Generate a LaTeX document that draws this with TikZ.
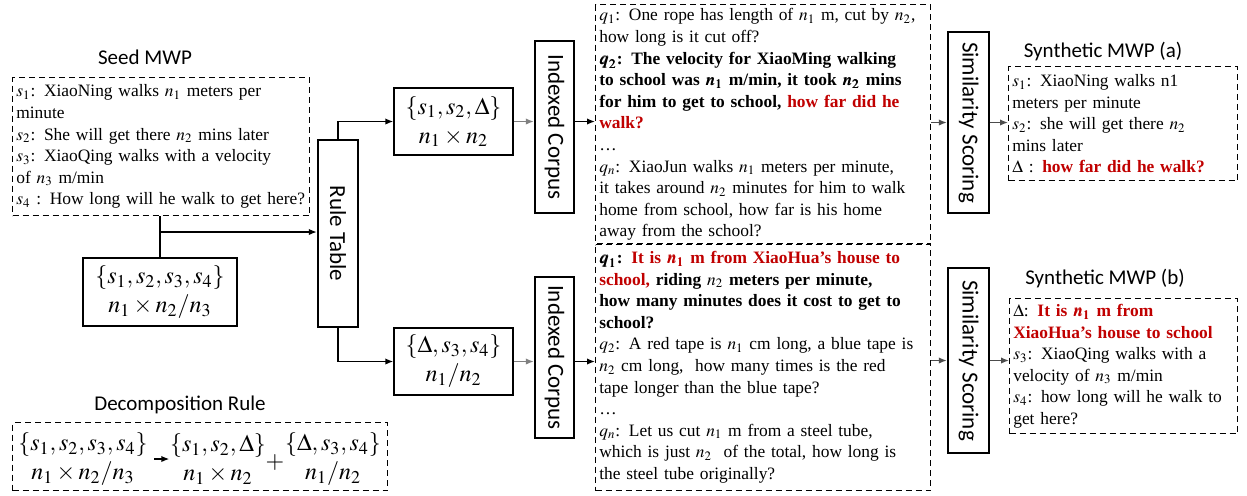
\documentclass[tikz,border=0pt]{standalone}
\usepackage{mathptmx}
\usepackage{fontspec}
\setmainfont{Liberation Serif}
\newfontfamily\labelfont{Carlito}
\usepackage{amsmath,bm,graphicx}
\usetikzlibrary{positioning,arrows.meta}

\definecolor{mwpred}{RGB}{192,0,0}

\def\txtsize{\fontsize{8.7}{10.8}\selectfont}
\tikzstyle{mwp} = [rectangle,
draw=black,
line width=0.7pt,
dash pattern=on 3pt off 2pt,
anchor=north west,
inner xsep=1.8pt,
inner ysep=2pt,
align=left,
font=\txtsize]
\tikzstyle{formula} = [rectangle,
draw=black,
line width=0.7pt,
align=center,
inner sep=0pt,
font=\fontsize{12}{14.5}\selectfont]
\tikzstyle{tall} = [rectangle,
draw=black,
line width=1.2pt,
inner sep=0pt,
font=\labelfont\fontsize{11.5}{12}\selectfont]
\tikzstyle{title} = [font=\labelfont\fontsize{10.5}{12}\selectfont]
\tikzstyle{arr} = [line width=0.7pt, -{Latex[length=4pt,width=3.2pt]}]

\begin{document}
\begin{tikzpicture}[x=0.5pt,y=-0.5pt]
    \useasboundingbox (0,0) rectangle (1247,495);
    %%%%%%%%%%%%%%%%%%%%%%%%%%%%%%%%%%%%%%%%
    % Seed problem
    %%%%%%%%%%%%%%%%%%%%%%%%%%%%%%%%%%%%%%%%
    \node (seedtitle) [title] at (145,57) {Seed MWP};
    \node (seed) [mwp, text width=144.9pt, minimum height=69pt] at (12,77) {%
        $s_1$: XiaoNing walks $n_1$ meters per\\
        minute\\
        $s_2$: She will get there $n_2$ mins later\\
        $s_3$: XiaoQing walks with a velocity\\
        of $n_3$ m/min\\
        $s_4$ : How long will he walk to get here?};
    \node (form) [formula, minimum width=77pt, minimum height=34pt] at (160,292)
        {$\{s_1,s_2,s_3,s_4\}$\\ $n_1\times n_2/n_3$};
    \node (rule) [tall, minimum width=20pt, minimum height=93.5pt] at (338,233.5)
        {\rotatebox{-90}{Rule Table}};
    %%%%%%%%%%%%%%%%%%%%%%%%%%%%%%%%%%%%%%%%
    % Decomposition rule
    %%%%%%%%%%%%%%%%%%%%%%%%%%%%%%%%%%%%%%%%
    \node (dectitle) [title] at (180,405) {Decomposition Rule};
    \node (dec) [mwp, minimum width=187.5pt, minimum height=34pt] at (12,422) {};
    \node (d1) [formula, draw=none] at (83,459) {$\{s_1,s_2,s_3,s_4\}$\\ $n_1\times n_2/n_3$};
    \node (d2) [formula, draw=none] at (218,459) {$\{s_1,s_2,\Delta\}$\\ $n_1\times n_2$};
    \node (d3) [formula, draw=none] at (333,459) {$\{\Delta,s_3,s_4\}$\\ $n_1/n_2$};
    \node (plus) [formula, draw=none] at (275,462) {$+$};
    %%%%%%%%%%%%%%%%%%%%%%%%%%%%%%%%%%%%%%%%
    % Sub problems
    %%%%%%%%%%%%%%%%%%%%%%%%%%%%%%%%%%%%%%%%
    \node (box1) [formula, minimum width=59.5pt, minimum height=33.5pt] at (453.5,121.5)
        {$\{s_1,s_2,\Delta\}$\\ $n_1\times n_2$};
    \node (box2) [formula, minimum width=59.5pt, minimum height=33.5pt] at (453.5,361.5)
        {$\{\Delta,s_3,s_4\}$\\ $n_1/n_2$};
    \node (ic1) [tall, minimum width=19.5pt, minimum height=86pt] at (554.5,127)
        {\rotatebox{-90}{Indexed Corpus}};
    \node (ic2) [tall, minimum width=19.5pt, minimum height=80.5pt] at (554.5,357.5)
        {\rotatebox{-90}{Indexed Corpus}};
    %%%%%%%%%%%%%%%%%%%%%%%%%%%%%%%%%%%%%%%%
    % Corpus
    %%%%%%%%%%%%%%%%%%%%%%%%%%%%%%%%%%%%%%%%
    \node (corpus1) [mwp, text width=163.9pt, minimum height=119pt] at (595,4) {%
        $q_1$: One rope has length of $n_1$ m, cut by $n_2$,\\
        how long is it cut off?\\
        {\bfseries $\bm{q_2}$: The velocity for XiaoMing walking\\
        to school was $\bm{n_1}$ m/min, it took $\bm{n_2}$ mins\\
        for him to get to school, {\color{mwpred}how far did he\\
        walk?}}\\
        \ldots\\
        $q_n$: XiaoJun walks $n_1$ meters per minute,\\
        it takes around $n_2$ minutes for him to walk\\
        home from school, how far is his home\\
        away from the school?};
    \node (corpus2) [mwp, text width=163.9pt, minimum height=123.5pt] at (595,243) {%
        {\bfseries $\bm{q_1}$: {\color{mwpred}It is $\bm{n_1}$ m from XiaoHua's house to\\
        school,} riding $n_2$ meters per minute,\\
        how many minutes does it cost to get to\\
        school?}\\
        $q_2$: A red tape is $n_1$ cm long, a blue tape is\\
        $n_2$ cm long,\ \ how many times is the red\\
        tape longer than the blue tape?\\
        \ldots\\
        $q_n$: Let us cut $n_1$ m from a steel tube,\\
        which is just $n_2$\ \ of the total, how long is\\
        the steel tube originally?};
    \node (ss1) [tall, minimum width=20.5pt, minimum height=90.5pt] at (968.5,122.5)
        {\rotatebox{-90}{Similarity Scoring}};
    \node (ss2) [tall, minimum width=20.5pt, minimum height=92.5pt] at (968.5,360.5)
        {\rotatebox{-90}{Similarity Scoring}};
    %%%%%%%%%%%%%%%%%%%%%%%%%%%%%%%%%%%%%%%%
    % Synthetic problems
    %%%%%%%%%%%%%%%%%%%%%%%%%%%%%%%%%%%%%%%%
    \node (synatitle) [title] at (1103,52) {Synthetic MWP (a)};
    \node (syna) [mwp, text width=110.9pt, minimum height=57pt] at (1008,66) {%
        $s_1$: XiaoNing walks n1\\
        meters per minute\\
        $s_2$: she will get there $n_2$\\
        mins later\\
        $\Delta$ : {\bfseries\color{mwpred}how far did he walk?}};
    \node (synbtitle) [title] at (1105,278) {Synthetic MWP (b)};
    \node (synb) [mwp, text width=110.4pt, minimum height=67.5pt] at (1009,298) {%
        $\Delta$: {\bfseries\color{mwpred}It is $\bm{n_1}$ m from\\
        XiaoHua's house to school}\\
        $s_3$: XiaoQing walks with a\\
        velocity of $n_3$ m/min\\
        $s_4$: how long will he walk to\\
        get here?};
    \coordinate (jn) at (form.north |- 0,232);
    \draw[line width=0.7pt] (seed.south -| form.north) -- (form.north);
    \draw[arr] (jn) -- (jn -| rule.west);
    \draw[arr] (rule.north) |- (box1.west);
    \draw[arr] (rule.south) |- (box2.west);
    \draw[arr, gray] (box1.east) -- (box1.east -| ic1.west);
    \draw[arr, gray] (box2.east) -- (box2.east -| ic2.west);
    \draw[arr] (box1.east -| ic1.east) -- (box1.east -| corpus1.west);
    \draw[arr] (box2.east -| ic2.east) -- (box2.east -| corpus2.west);
    \draw[arr, black!70] (ss1.west -| corpus1.east) -- (ss1.west);
    \draw[arr, black!70] (ss2.west -| corpus2.east) -- (ss2.west);
    \draw[arr, black!70] (ss1.east) -- (ss1.east -| syna.west);
    \draw[arr, black!70] (ss2.east) -- (ss2.east -| synb.west);
    \draw[arr, shorten <=3pt] (d1.east) -- (d2.west);
\end{tikzpicture}
\end{document}
